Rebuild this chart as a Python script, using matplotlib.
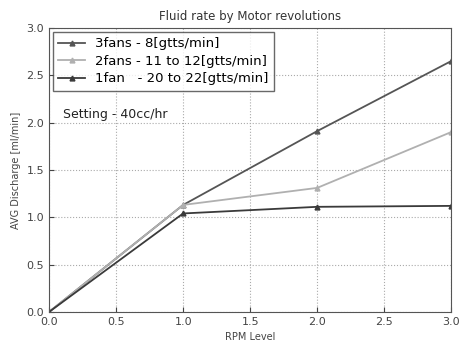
import matplotlib
matplotlib.use("Agg")
import matplotlib.pyplot as plt

rpm = [0, 1, 2, 3]
fans3 = [0.0, 1.13, 1.91, 2.65]
fans2 = [0.0, 1.13, 1.31, 1.90]
fan1 = [0.0, 1.04, 1.11, 1.12]

labels = ["3fans - 8[gtts/min]", "2fans - 11 to 12[gtts/min]", "1fan   - 20 to 22[gtts/min]"]

fig, ax = plt.subplots(figsize=(4.59, 3.45), dpi=100)
fig.subplots_adjust(left=0.107, right=0.983, top=0.919, bottom=0.096)

ax.plot(rpm, fans3, marker="^", ms=3.5, color="#555555", lw=1.3, label=labels[0])
ax.plot(rpm, fans2, marker="^", ms=3.5, color="#b0b0b0", lw=1.3, label=labels[1])
ax.plot(rpm, fan1, marker="^", ms=3.5, color="#3a3a3a", lw=1.3, label=labels[2])

ax.set_xlim(0, 3)
ax.set_ylim(0, 3)
ax.set_xticks([0, 0.5, 1, 1.5, 2, 2.5, 3])
ax.set_yticks([0, 0.5, 1, 1.5, 2, 2.5, 3])
ax.tick_params(labelsize=8, colors="#444444", direction="in")
ax.grid(True, linestyle=":", color="#aaaaaa")
for s in ax.spines.values():
    s.set_color("#555555")

ax.set_title("Fluid rate by Motor revolutions", fontsize=8.5, color="#333333")
ax.set_xlabel("RPM Level", fontsize=7, color="#444444")
ax.set_ylabel("AVG Discharge [ml/min]", fontsize=7, color="#444444")
ax.text(0.1, 2.05, "Setting - 40cc/hr", fontsize=9, color="#222222")

leg = ax.legend(loc="upper left", fontsize=9.5, fancybox=False, handlelength=2.0,
                borderaxespad=0.3, labelspacing=0.35)
leg.get_frame().set_edgecolor("#444444")

fig.savefig("out.png")
